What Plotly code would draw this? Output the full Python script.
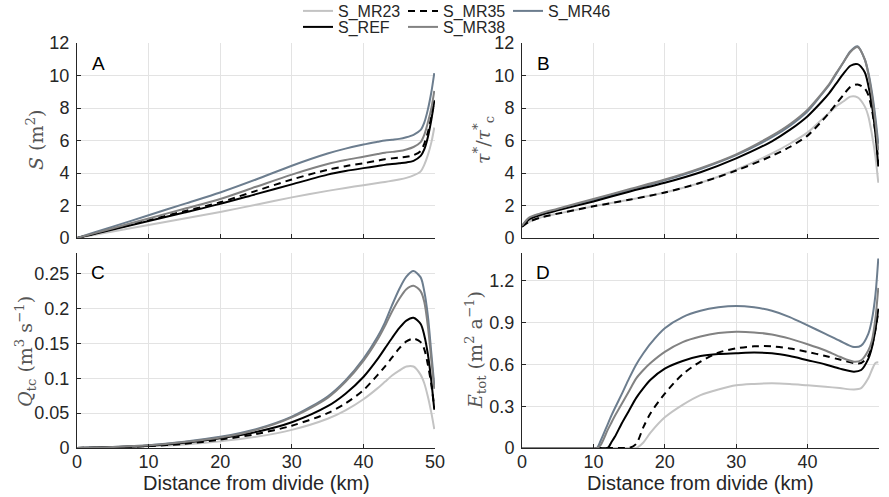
import plotly.graph_objects as go

# ---------------- data ----------------
SERIES = ["S_MR23", "S_MR35", "S_MR46", "S_REF", "S_MR38"]

DIST = [0, 1, 2.5, 5, 10, 15, 20, 25, 30, 35, 37.5, 40, 42, 43, 44, 45, 46, 47, 48, 48.5, 49, 49.5, 49.9]

# Panel A: S (m^2)
area_MR23 = [0, 0.08, 0.2, 0.4, 0.8, 1.2, 1.6, 2.05, 2.5, 2.9, 3.08, 3.25, 3.38, 3.45, 3.52, 3.6, 3.7, 3.85, 4.1, 4.5, 5.1, 5.9, 6.8]
area_MR35 = [0, 0.11, 0.28, 0.55, 1.1, 1.65, 2.2, 2.9, 3.6, 4.2, 4.42, 4.6, 4.76, 4.85, 4.9, 4.95, 5.0, 5.1, 5.35, 5.8, 6.5, 7.5, 8.5]
area_MR46 = [0, 0.14, 0.35, 0.7, 1.4, 2.1, 2.8, 3.6, 4.45, 5.2, 5.5, 5.75, 5.92, 6.0, 6.05, 6.1, 6.2, 6.35, 6.65, 7.1, 7.9, 9.0, 10.15]
area_REF = [0, 0.1, 0.26, 0.52, 1.05, 1.57, 2.1, 2.7, 3.3, 3.9, 4.12, 4.3, 4.43, 4.5, 4.55, 4.6, 4.65, 4.75, 5.05, 5.45, 6.2, 7.3, 8.45]
area_MR38 = [0, 0.12, 0.3, 0.6, 1.2, 1.8, 2.4, 3.15, 3.9, 4.55, 4.8, 5.0, 5.17, 5.25, 5.3, 5.35, 5.45, 5.6, 5.9, 6.35, 7.1, 8.0, 9.05]

# Panel B: tau*/tau*_c
tau_MR23 = [0.7, 1.0, 1.25, 1.5, 1.95, 2.35, 2.8, 3.4, 4.2, 5.2, 5.8, 6.5, 7.3, 7.7, 8.1, 8.4, 8.7, 8.65, 8.1, 7.5, 6.4, 5.0, 3.4]
tau_MR35 = [0.7, 1.0, 1.25, 1.5, 1.95, 2.35, 2.8, 3.4, 4.15, 5.05, 5.6, 6.3, 7.2, 7.7, 8.25, 8.8, 9.3, 9.45, 9.2, 8.8, 7.9, 6.5, 4.6]
tau_MR46 = [0.75, 1.2, 1.45, 1.75, 2.35, 2.95, 3.55, 4.25, 5.1, 6.2, 6.9, 7.8, 8.85, 9.4, 10.1, 10.8, 11.5, 11.8, 11.0, 10.2, 9.0, 7.4, 5.8]
tau_REF = [0.7, 1.15, 1.4, 1.7, 2.25, 2.85, 3.4, 4.05, 4.9, 5.95, 6.65, 7.5, 8.4, 8.9, 9.5, 10.1, 10.6, 10.7, 10.2, 9.4, 8.2, 6.4, 4.4]
tau_MR38 = [0.75, 1.25, 1.5, 1.8, 2.4, 3.0, 3.6, 4.3, 5.15, 6.3, 7.0, 7.9, 8.9, 9.45, 10.15, 10.8, 11.45, 11.75, 11.0, 10.1, 8.8, 7.1, 5.4]

# Panel C: Q_tc (m^3 s^-1)
qtc_MR23 = [0, 0.0001, 0.0004, 0.0009, 0.0024, 0.005, 0.0095, 0.016, 0.026, 0.042, 0.054, 0.07, 0.086, 0.095, 0.104, 0.111, 0.117, 0.117, 0.105, 0.093, 0.074, 0.05, 0.027]
qtc_MR35 = [0, 0.0002, 0.0005, 0.001, 0.0027, 0.006, 0.012, 0.02, 0.032, 0.05, 0.064, 0.083, 0.105, 0.117, 0.13, 0.143, 0.153, 0.157, 0.152, 0.142, 0.12, 0.09, 0.058]
qtc_MR46 = [0, 0.0003, 0.0008, 0.0015, 0.004, 0.009, 0.016, 0.027, 0.045, 0.074, 0.097, 0.128, 0.16, 0.18, 0.205, 0.228, 0.246, 0.254, 0.245, 0.225, 0.19, 0.135, 0.09]
qtc_REF = [0, 0.0002, 0.0006, 0.0012, 0.0033, 0.0075, 0.014, 0.023, 0.037, 0.06, 0.078, 0.102, 0.128, 0.143, 0.158, 0.172, 0.183, 0.187, 0.178, 0.162, 0.135, 0.095, 0.055]
qtc_MR38 = [0, 0.0003, 0.0007, 0.0014, 0.0038, 0.0085, 0.015, 0.026, 0.044, 0.072, 0.095, 0.125, 0.156, 0.175, 0.196, 0.214, 0.228, 0.233, 0.225, 0.21, 0.175, 0.125, 0.085]

# Panel D: E_tot (m^2 a^-1)
DIST_D = [0, 5, 10, 10.5, 11, 12, 12.5, 13, 14, 15, 16, 17, 18, 20, 22.5, 25, 27.5, 30, 32.5, 35, 37.5, 40, 42.5, 44.5, 46.5, 47.5, 48.5, 49, 49.5, 49.9]
etot_MR23 = [0, 0, 0, 0, 0, 0, 0, 0, 0, 0, 0, 0.04, 0.11, 0.22, 0.31, 0.38, 0.42, 0.45, 0.46, 0.465, 0.46, 0.45, 0.44, 0.43, 0.42, 0.43, 0.5, 0.56, 0.61, 0.615]
etot_MR35 = [0, 0, 0, 0, 0, 0, 0, 0, 0, 0, 0.03, 0.15, 0.25, 0.39, 0.53, 0.62, 0.685, 0.715, 0.73, 0.73, 0.715, 0.69, 0.66, 0.635, 0.61, 0.61, 0.66, 0.73, 0.85, 0.98]
etot_MR46 = [0, 0, 0, 0, 0.05, 0.17, 0.23, 0.285, 0.39, 0.5, 0.6, 0.68, 0.75, 0.86, 0.94, 0.985, 1.01, 1.02, 1.01, 0.985, 0.94, 0.88, 0.82, 0.77, 0.725, 0.735, 0.82, 0.92, 1.1, 1.36]
etot_REF = [0, 0, 0, 0, 0, 0, 0.04, 0.08, 0.18, 0.27, 0.36, 0.43, 0.49, 0.57, 0.625, 0.66, 0.675, 0.68, 0.685, 0.68, 0.66, 0.63, 0.6, 0.57, 0.548, 0.56, 0.64, 0.72, 0.85, 1.0]
etot_MR38 = [0, 0, 0, 0, 0.02, 0.13, 0.18, 0.23, 0.32, 0.41, 0.5, 0.56, 0.61, 0.69, 0.76, 0.8, 0.825, 0.835, 0.83, 0.815, 0.785, 0.745, 0.7, 0.655, 0.62, 0.63, 0.7, 0.77, 0.93, 1.15]

PANEL_LABELS = ["A", "B", "C", "D"]
X_TICKS = [0, 10, 20, 30, 40, 50]
Y_TICKS_AB = [0, 2, 4, 6, 8, 10, 12]
Y_TICKS_C = [0, 0.05, 0.1, 0.15, 0.2, 0.25]
Y_TICK_TEXT_C = ["0", "0.05", "0.1", "0.15", "0.2", "0.25"]
Y_TICKS_D = [0, 0.3, 0.6, 0.9, 1.2]
Y_TICK_TEXT_D = ["0", "0.3", "0.6", "0.9", "1.2"]

# ---------------- styling ----------------
W, H = 889, 497
STYLE = {
    "S_MR23": dict(color="#c3c3c3", width=2, dash="solid"),
    "S_MR35": dict(color="#000000", width=2, dash="7px,5px"),
    "S_MR46": dict(color="#6c7d8e", width=2, dash="solid"),
    "S_REF": dict(color="#000000", width=2, dash="solid"),
    "S_MR38": dict(color="#828282", width=2, dash="solid"),
}
LEGEND_OF = {"S_MR23": "legend", "S_MR35": "legend", "S_MR46": "legend",
             "S_REF": "legend2", "S_MR38": "legend2"}

panels = [
    (DIST, {"S_MR23": area_MR23, "S_MR35": area_MR35, "S_MR46": area_MR46, "S_REF": area_REF, "S_MR38": area_MR38}),
    (DIST, {"S_MR23": tau_MR23, "S_MR35": tau_MR35, "S_MR46": tau_MR46, "S_REF": tau_REF, "S_MR38": tau_MR38}),
    (DIST, {"S_MR23": qtc_MR23, "S_MR35": qtc_MR35, "S_MR46": qtc_MR46, "S_REF": qtc_REF, "S_MR38": qtc_MR38}),
    (DIST_D, {"S_MR23": etot_MR23, "S_MR35": etot_MR35, "S_MR46": etot_MR46, "S_REF": etot_REF, "S_MR38": etot_MR38}),
]

fig = go.Figure()
for i, (xs, data) in enumerate(panels, start=1):
    for name in SERIES:
        fig.add_trace(go.Scatter(
            x=xs, y=data[name], mode="lines", name=name,
            line=dict(shape="spline", smoothing=0.8, **STYLE[name]),
            xaxis=f"x{i}", yaxis=f"y{i}",
            showlegend=(i == 1), legend=LEGEND_OF[name],
            hoverinfo="skip",
        ))

def px_x(p):
    return p / W

def px_y(p):
    return 1 - p / H

# Panel rectangles in pixels (left, right, top, bottom)
rects = {1: (77, 435, 43, 238), 2: (522, 879, 43, 238),
         3: (77, 435, 253, 448), 4: (522, 879, 253, 448)}

FONT = "Liberation Sans, Arial, sans-serif"
TICK_COLOR = "#262626"
GRID = "#e3e3e3"

layout = dict(
    width=W, height=H, margin=dict(l=0, r=0, t=0, b=0, autoexpand=False),
    paper_bgcolor="white", plot_bgcolor="white",
    font=dict(family=FONT, size=18, color=TICK_COLOR),
    showlegend=True,
)
y_ranges = {1: [0, 12], 2: [0, 12], 3: [0, 0.28], 4: [0, 1.4]}
for i, (l, r, t, b) in rects.items():
    xa = dict(domain=[px_x(l), px_x(r)], range=[0, 50], anchor=f"y{i}",
              tickvals=X_TICKS, showgrid=True, gridcolor=GRID, gridwidth=1,
              showline=True, linecolor=TICK_COLOR, linewidth=1,
              ticks="inside", ticklen=4, tickcolor=TICK_COLOR,
              zeroline=False, showticklabels=(i >= 3), automargin=False,
              tickfont=dict(size=18, color=TICK_COLOR, family=FONT),
              ticklabelstandoff=-3)
    ya = dict(domain=[px_y(b), px_y(t)], range=y_ranges[i], anchor=f"x{i}",
              showgrid=True, gridcolor=GRID, gridwidth=1,
              showline=True, linecolor=TICK_COLOR, linewidth=1,
              ticks="inside", ticklen=4, tickcolor=TICK_COLOR,
              zeroline=False, automargin=False,
              tickfont=dict(size=18, color=TICK_COLOR, family=FONT),
              ticklabelstandoff=3)
    if i in (1, 2):
        ya["tickvals"] = Y_TICKS_AB
    elif i == 3:
        ya["tickvals"] = Y_TICKS_C
        ya["ticktext"] = Y_TICK_TEXT_C
    else:
        ya["tickvals"] = Y_TICKS_D
        ya["ticktext"] = Y_TICK_TEXT_D
    layout[f"xaxis{i}"] = xa
    layout[f"yaxis{i}"] = ya

legend_common = dict(orientation="h", xanchor="left", yanchor="top",
                     bgcolor="rgba(0,0,0,0)", borderwidth=0,
                     font=dict(family=FONT, size=16, color=TICK_COLOR),
                     entrywidth=60, entrywidthmode="pixels",
                     itemwidth=30, tracegroupgap=0)
layout["legend"] = dict(x=px_x(298), y=px_y(-6), **legend_common)
layout["legend2"] = dict(x=px_x(298), y=px_y(10), **legend_common)

fig.update_layout(**layout)

# Panel letters
letter_pos = {1: (98, 63), 2: (543, 63), 3: (98, 272), 4: (543, 272)}
for i, lab in enumerate(PANEL_LABELS, start=1):
    x, y = letter_pos[i]
    fig.add_annotation(x=px_x(x), y=px_y(y), xref="paper", yref="paper",
                       text=lab, showarrow=False, xanchor="center", yanchor="middle",
                       font=dict(family=FONT, size=19, color="#000000"))

# Y-axis titles
SERIF = "DejaVu Serif, Liberation Serif, serif"
TITLE_COLOR = "#555555"
y_titles = [
    ("<i>S</i> (m<sup>2</sup>)", 35, 140),
    ("<i>τ</i><sup>*</sup>/<i>τ</i><sup>*</sup><sub>c</sub>", 483, 140),
    ("<i>Q</i><sub>tc</sub> (m<sup>3</sup> s<sup>−1</sup>)", 25, 352),
    ("<i>E</i><sub>tot</sub> (m<sup>2</sup> a<sup>−1</sup>)", 475, 350),
]
for text, x, y in y_titles:
    fig.add_annotation(x=px_x(x), y=px_y(y), xref="paper", yref="paper",
                       text=text, showarrow=False, textangle=-90,
                       xanchor="center", yanchor="middle",
                       font=dict(family=SERIF, size=19, color=TITLE_COLOR))

# X-axis titles
for cx in (256, 700):
    fig.add_annotation(x=px_x(cx), y=px_y(483), xref="paper", yref="paper",
                       text="Distance from divide (km)", showarrow=False,
                       xanchor="center", yanchor="middle",
                       font=dict(family=FONT, size=20, color=TICK_COLOR))

fig.write_html("out.html", config={"displayModeBar": False},
               post_script="document.body.style.margin='0px';document.body.style.overflow='hidden';")
